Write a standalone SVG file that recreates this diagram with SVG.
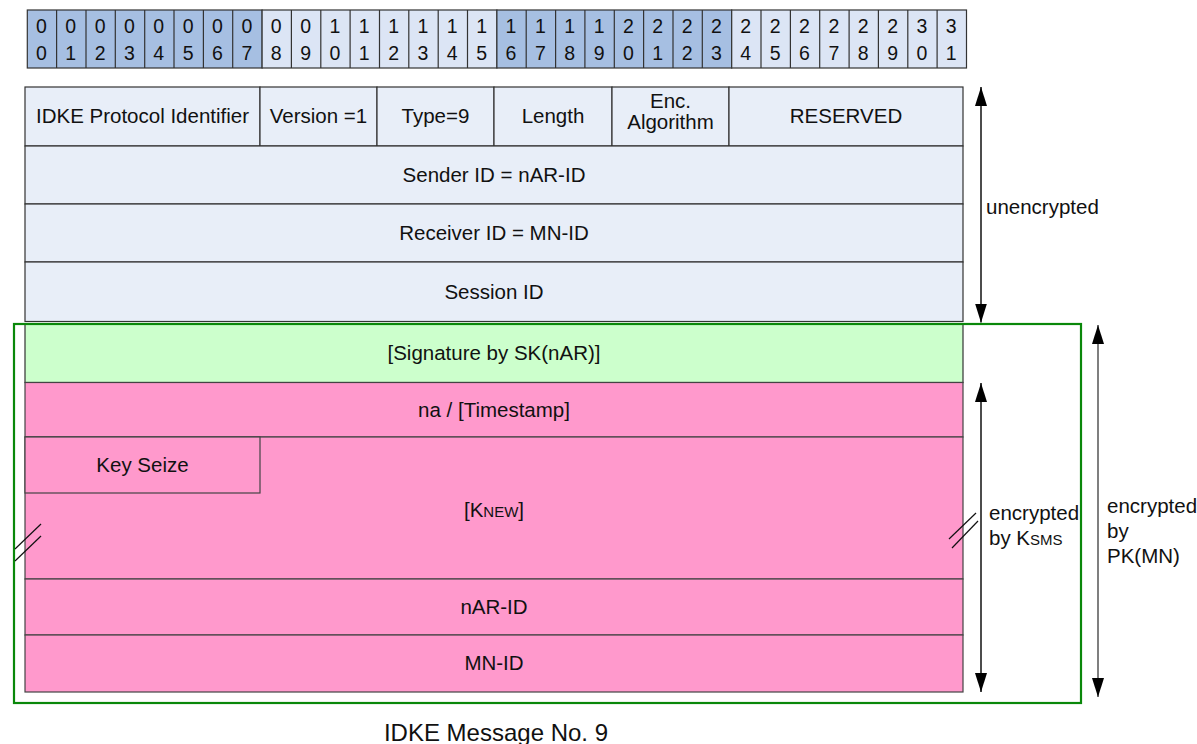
<svg xmlns="http://www.w3.org/2000/svg" width="1197" height="744" viewBox="0 0 1197 744">
<style>
text{font-family:"Liberation Sans",Arial,sans-serif;font-size:20.5px;fill:#111}
.c{text-anchor:middle}
.d{font-size:19.5px;text-anchor:middle}
.bd{fill:#a6bfe2;stroke:#333;stroke-width:1.2}
.bl{fill:#dce5f5;stroke:#333;stroke-width:1.2}
.hd{fill:#e8eef8;stroke:#333;stroke-width:1.2}
.gr{fill:#ccffcc;stroke:#333;stroke-width:1.2}
.pk{fill:#ff99cc;stroke:#444;stroke-width:1.2}
.ar{stroke:#111;stroke-width:1.5;fill:none}
.sl{stroke:#111;stroke-width:1.2}
.sub{font-size:15px}
</style>
<defs>
<marker id="ah" viewBox="0 0 19 12" refX="19" refY="6" markerWidth="19" markerHeight="12" markerUnits="userSpaceOnUse" orient="auto-start-reverse">
<path d="M0,0 L19,6 L0,12 z" fill="#000"/>
</marker>
</defs>
<rect width="1197" height="744" fill="#fff"/>

<g id="bits">
<rect class="bd" x="27.3" y="10" width="234.8" height="58"/>
<rect class="bl" x="262.1" y="10" width="234.8" height="58"/>
<rect class="bd" x="496.9" y="10" width="234.8" height="58"/>
<rect class="bl" x="731.7" y="10" width="234.8" height="58"/>
<path d="M56.6,10V68M86,10V68M115.3,10V68M144.7,10V68M174,10V68M203.4,10V68M232.7,10V68M291.4,10V68M320.8,10V68M350.1,10V68M379.5,10V68M408.8,10V68M438.2,10V68M467.5,10V68M526.2,10V68M555.6,10V68M584.9,10V68M614.3,10V68M643.6,10V68M673,10V68M702.3,10V68M761,10V68M790.4,10V68M819.7,10V68M849.1,10V68M878.4,10V68M907.8,10V68M937.1,10V68" stroke="#333" stroke-width="1.2"/>
<text class="d" x="41.5" y="33">0</text><text class="d" x="41.5" y="59.5">0</text>
<text class="d" x="70.8" y="33">0</text><text class="d" x="70.8" y="59.5">1</text>
<text class="d" x="100.1" y="33">0</text><text class="d" x="100.1" y="59.5">2</text>
<text class="d" x="129.5" y="33">0</text><text class="d" x="129.5" y="59.5">3</text>
<text class="d" x="158.8" y="33">0</text><text class="d" x="158.8" y="59.5">4</text>
<text class="d" x="188.2" y="33">0</text><text class="d" x="188.2" y="59.5">5</text>
<text class="d" x="217.5" y="33">0</text><text class="d" x="217.5" y="59.5">6</text>
<text class="d" x="246.9" y="33">0</text><text class="d" x="246.9" y="59.5">7</text>
<text class="d" x="276.2" y="33">0</text><text class="d" x="276.2" y="59.5">8</text>
<text class="d" x="305.6" y="33">0</text><text class="d" x="305.6" y="59.5">9</text>
<text class="d" x="334.9" y="33">1</text><text class="d" x="334.9" y="59.5">0</text>
<text class="d" x="364.3" y="33">1</text><text class="d" x="364.3" y="59.5">1</text>
<text class="d" x="393.6" y="33">1</text><text class="d" x="393.6" y="59.5">2</text>
<text class="d" x="423" y="33">1</text><text class="d" x="423" y="59.5">3</text>
<text class="d" x="452.3" y="33">1</text><text class="d" x="452.3" y="59.5">4</text>
<text class="d" x="481.7" y="33">1</text><text class="d" x="481.7" y="59.5">5</text>
<text class="d" x="511" y="33">1</text><text class="d" x="511" y="59.5">6</text>
<text class="d" x="540.4" y="33">1</text><text class="d" x="540.4" y="59.5">7</text>
<text class="d" x="569.7" y="33">1</text><text class="d" x="569.7" y="59.5">8</text>
<text class="d" x="599.1" y="33">1</text><text class="d" x="599.1" y="59.5">9</text>
<text class="d" x="628.4" y="33">2</text><text class="d" x="628.4" y="59.5">0</text>
<text class="d" x="657.8" y="33">2</text><text class="d" x="657.8" y="59.5">1</text>
<text class="d" x="687.1" y="33">2</text><text class="d" x="687.1" y="59.5">2</text>
<text class="d" x="716.5" y="33">2</text><text class="d" x="716.5" y="59.5">3</text>
<text class="d" x="745.8" y="33">2</text><text class="d" x="745.8" y="59.5">4</text>
<text class="d" x="775.2" y="33">2</text><text class="d" x="775.2" y="59.5">5</text>
<text class="d" x="804.5" y="33">2</text><text class="d" x="804.5" y="59.5">6</text>
<text class="d" x="833.9" y="33">2</text><text class="d" x="833.9" y="59.5">7</text>
<text class="d" x="863.2" y="33">2</text><text class="d" x="863.2" y="59.5">8</text>
<text class="d" x="892.6" y="33">2</text><text class="d" x="892.6" y="59.5">9</text>
<text class="d" x="921.9" y="33">3</text><text class="d" x="921.9" y="59.5">0</text>
<text class="d" x="951.3" y="33">3</text><text class="d" x="951.3" y="59.5">1</text>
</g>

<g id="header">
<rect class="hd" x="25" y="87" width="235" height="59"/>
<rect class="hd" x="260" y="87" width="117" height="59"/>
<rect class="hd" x="377" y="87" width="117" height="59"/>
<rect class="hd" x="494" y="87" width="118" height="59"/>
<rect class="hd" x="612" y="87" width="117" height="59"/>
<rect class="hd" x="729" y="87" width="234" height="59"/>
<text class="c" x="142.5" y="123">IDKE Protocol Identifier</text>
<text class="c" x="318.5" y="123">Version =1</text>
<text class="c" x="435.5" y="123">Type=9</text>
<text class="c" x="553" y="123">Length</text>
<text class="c" x="670.5" y="108">Enc.</text>
<text class="c" x="670.5" y="129">Algorithm</text>
<text class="c" x="846" y="123">RESERVED</text>
</g>

<g id="sender"><rect class="hd" x="25" y="146" width="938" height="58"/><text class="c" x="494" y="182">Sender ID = nAR-ID</text></g>
<g id="receiver"><rect class="hd" x="25" y="204" width="938" height="58"/><text class="c" x="494" y="240">Receiver ID = MN-ID</text></g>
<g id="session"><rect class="hd" x="25" y="262" width="938" height="59.5"/><text class="c" x="494" y="298.5">Session ID</text></g>
<g id="signature"><rect class="gr" x="25" y="324" width="938" height="58.5"/><text class="c" x="494" y="360">[Signature by SK(nAR)]</text></g>
<g id="nonce"><rect class="pk" x="25" y="382.5" width="938" height="54.5"/><text class="c" x="494" y="416.5">na / [Timestamp]</text></g>
<g id="knew"><rect class="pk" x="25" y="437" width="938" height="142"/><text class="c" x="494" y="517">[K<tspan class="sub">NEW</tspan>]</text></g>
<g id="keyseize"><rect class="pk" x="25" y="437" width="235" height="56"/><text class="c" x="142.5" y="472">Key Seize</text></g>
<g id="narid"><rect class="pk" x="25" y="579" width="938" height="56"/><text class="c" x="494" y="614">nAR-ID</text></g>
<g id="mnid"><rect class="pk" x="25" y="635" width="938" height="57"/><text class="c" x="494" y="670">MN-ID</text></g>

<g id="encbox"><rect x="14" y="324" width="1067" height="379" fill="none" stroke="#0a880a" stroke-width="2.2"/></g>

<g id="connectors">
<line class="ar" x1="981" y1="87" x2="981" y2="322.5" marker-start="url(#ah)" marker-end="url(#ah)"/>
<line class="ar" x1="981" y1="383" x2="981" y2="692" marker-start="url(#ah)" marker-end="url(#ah)"/>
<line class="ar" x1="1098" y1="325" x2="1098" y2="697" style="stroke:#555" marker-start="url(#ah)" marker-end="url(#ah)"/>
<line class="sl" x1="15" y1="549" x2="41" y2="524"/>
<line class="sl" x1="15" y1="561" x2="41" y2="536"/>
<line class="sl" x1="949" y1="539" x2="976" y2="513"/>
<line class="sl" x1="952" y1="548" x2="978" y2="521"/>
</g>

<g id="labels">
<text x="986" y="214">unencrypted</text>
<text x="989" y="520">encrypted</text>
<text x="989" y="545">by K<tspan class="sub">SMS</tspan></text>
<text x="1107" y="513">encrypted</text>
<text x="1107" y="538">by</text>
<text x="1107" y="563">PK(MN)</text>
<text class="c" x="496" y="741" style="font-size:24px">IDKE Message No. 9</text>
</g>
</svg>
